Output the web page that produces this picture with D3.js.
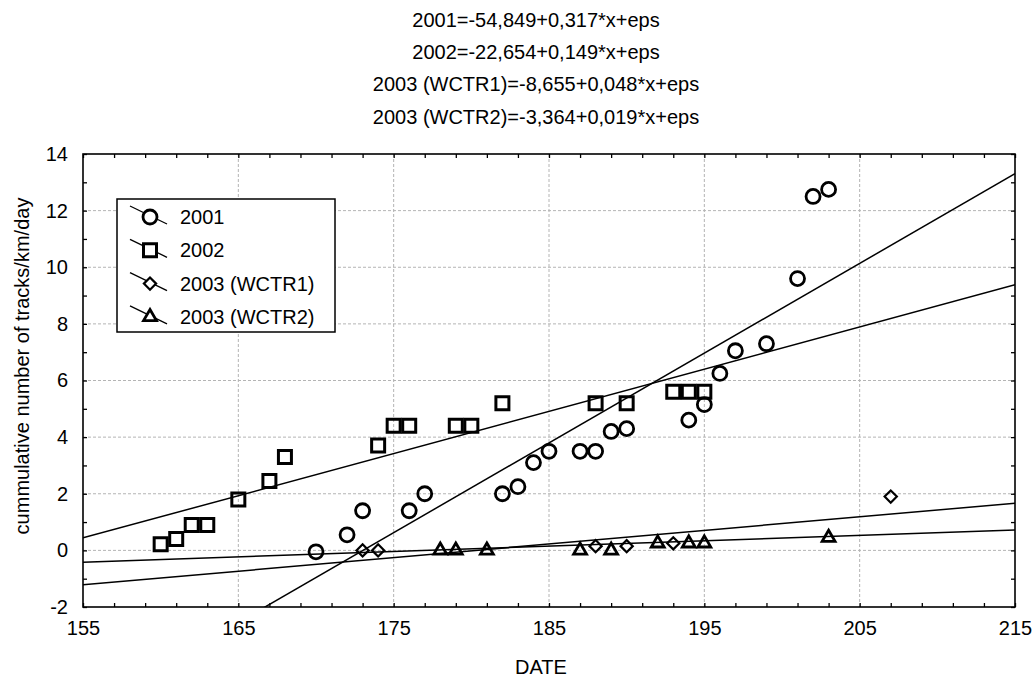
<!DOCTYPE html>
<html>
<head>
<meta charset="utf-8">
<script src="https://cdn.jsdelivr.net/npm/d3@7"></script>
<style>
  body { margin: 0; background: #fff; }
  text { font-family: "Liberation Sans", Arial, sans-serif; fill: #000; }
</style>
</head>
<body>
<svg width="1034" height="678"></svg>
<script>
// data
const x2001 = [170, 172, 173, 176, 177, 182, 183, 184, 185, 187, 188, 189, 190, 194, 195, 196, 197, 199, 201, 202, 203]
const y2001 = [-0.05, 0.55, 1.4, 1.4, 2.0, 2.0, 2.25, 3.1, 3.5, 3.5, 3.5, 4.2, 4.3, 4.6, 5.15, 6.25, 7.05, 7.3, 9.6, 12.5, 12.75]
const x2002 = [160, 161, 162, 163, 165, 167, 168, 174, 175, 176, 179, 180, 182, 188, 190, 193, 194, 195]
const y2002 = [0.22, 0.4, 0.9, 0.9, 1.8, 2.45, 3.3, 3.7, 4.4, 4.4, 4.4, 4.4, 5.2, 5.2, 5.2, 5.6, 5.6, 5.6]
const xW1 = [173, 174, 188, 190, 193, 207]
const yW1 = [0, 0, 0.15, 0.15, 0.25, 1.9]
const xW2 = [178, 179, 181, 187, 189, 192, 194, 195, 203]
const yW2 = [0, 0, 0, 0, 0, 0.25, 0.25, 0.25, 0.45]

const seriesNames = ['2001', '2002', '2003 (WCTR1)', '2003 (WCTR2)']
const intercepts = [-54.849, -22.654, -8.655, -3.364]
const slopes = [0.317, 0.149, 0.048, 0.019]
const titleLines = [
  '2001=-54,849+0,317*x+eps',
  '2002=-22,654+0,149*x+eps',
  '2003 (WCTR1)=-8,655+0,048*x+eps',
  '2003 (WCTR2)=-3,364+0,019*x+eps'
]
const xTicks = [155, 165, 175, 185, 195, 205, 215]
const yTicks = [-2, 0, 2, 4, 6, 8, 10, 12, 14]

const svg = d3.select('svg')
const pLeft = 83, pRight = 1015, pTop = 154, pBottom = 607

const x = d3.scaleLinear().domain([155, 215]).range([pLeft, pRight])
const y = d3.scaleLinear().domain([-2, 14]).range([pBottom, pTop])

// 标题
svg.selectAll('.title').data(titleLines).enter().append('text')
  .attr('x', 536).attr('y', (d, i) => 27 + i * 32.2)
  .attr('text-anchor', 'middle').style('font-size', '20px')
  .text(d => d)

// 网格
const grid = svg.append('g').attr('stroke', '#b4b4b4').attr('stroke-dasharray', '3,2').attr('stroke-width', 1)
grid.selectAll('.gx').data(xTicks.slice(1, -1)).enter().append('line')
  .attr('x1', d => x(d)).attr('x2', d => x(d)).attr('y1', pTop).attr('y2', pBottom)
grid.selectAll('.gy').data(yTicks.slice(1, -1)).enter().append('line')
  .attr('y1', d => y(d)).attr('y2', d => y(d)).attr('x1', pLeft).attr('x2', pRight)

// 坐标轴 (ticks point inward)
const minorX = d3.range(155, 216, 2).filter(v => !xTicks.includes(v)).concat(xTicks)
const minorY = d3.range(-2, 15, 1)

function styleAxis(g) {
  g.select('.domain').remove()
  g.selectAll('line').attr('stroke', '#000').attr('stroke-width', 1.3)
  g.selectAll('text').style('font-size', '20px').attr('fill', '#000')
}

svg.append('g').attr('transform', `translate(0,${pBottom})`)
  .call(d3.axisBottom(x).tickValues(minorX).tickSize(-4).tickFormat(v => xTicks.includes(v) ? v : '').tickPadding(14))
  .call(styleAxis)
svg.append('g').attr('transform', `translate(0,${pTop})`)
  .call(d3.axisTop(x).tickValues(minorX).tickSize(-4).tickFormat(''))
  .call(styleAxis)
svg.append('g').attr('transform', `translate(${pLeft},0)`)
  .call(d3.axisLeft(y).tickValues(minorY).tickSize(-4).tickFormat(v => yTicks.includes(v) ? v : '').tickPadding(15))
  .call(styleAxis)
svg.append('g').attr('transform', `translate(${pRight},0)`)
  .call(d3.axisRight(y).tickValues(minorY).tickSize(-4).tickFormat(''))
  .call(styleAxis)

svg.append('rect').attr('x', pLeft).attr('y', pTop).attr('width', pRight - pLeft).attr('height', pBottom - pTop)
  .attr('fill', 'none').attr('stroke', '#000').attr('stroke-width', 1.6)

// 轴标题
svg.append('text').attr('x', 541).attr('y', 674).attr('text-anchor', 'middle')
  .style('font-size', '20px').text('DATE')
svg.append('text').attr('transform', 'translate(29,366) rotate(-90)').attr('text-anchor', 'middle')
  .style('font-size', '20px').text('cummulative number of tracks/km/day')

// 回归线
svg.append('clipPath').attr('id', 'clip').append('rect')
  .attr('x', pLeft).attr('y', pTop).attr('width', pRight - pLeft).attr('height', pBottom - pTop)
const fits = svg.append('g').attr('clip-path', 'url(#clip)')
fits.selectAll('line').data(seriesNames.map((n, i) => ({a: intercepts[i], b: slopes[i]}))).enter().append('line')
  .attr('x1', x(155)).attr('x2', x(215))
  .attr('y1', d => y(d.a + d.b * 155)).attr('y2', d => y(d.a + d.b * 215))
  .attr('stroke', '#000').attr('stroke-width', 1.5)

// 符号
const shapes = [
  {sym: d3.symbolCircle, size: 154, sw: 2.8},
  {sym: d3.symbolSquare, size: 169, sw: 3},
  {sym: d3.symbolDiamond2, size: 95, sw: 2.2},
  {sym: d3.symbolTriangle, size: 72, sw: 2.8}
]
const xs = [x2001, x2002, xW1, xW2]
const ys = [y2001, y2002, yW1, yW2]

xs.forEach((xv, i) => {
  const path = d3.symbol().type(shapes[i].sym).size(shapes[i].size)()
  svg.append('g').selectAll('path').data(xv.map((v, j) => [v, ys[i][j]])).enter().append('path')
    .attr('d', path)
    .attr('transform', d => `translate(${x(d[0])},${y(d[1])})`)
    .attr('fill', 'none').attr('stroke', '#000').attr('stroke-width', shapes[i].sw)
})

// 图例
const legend = svg.append('g')
legend.append('rect').attr('x', 117).attr('y', 199).attr('width', 218).attr('height', 133)
  .attr('fill', '#fff').attr('stroke', '#000').attr('stroke-width', 1.5)
const items = legend.selectAll('.item').data(seriesNames).enter().append('g')
  .attr('transform', (d, i) => `translate(150,${217 + i * 33.3})`)
items.append('line').attr('x1', -20).attr('y1', -11).attr('x2', 17).attr('y2', 7)
  .attr('stroke', '#000').attr('stroke-width', 1.3)
items.append('path')
  .attr('d', (d, i) => d3.symbol().type(shapes[i].sym).size(shapes[i].size)())
  .attr('fill', '#fff').attr('stroke', '#000').attr('stroke-width', (d, i) => shapes[i].sw)
items.append('text').attr('x', 30).attr('y', 7).style('font-size', '20px').text(d => d)
</script>
</body>
</html>
